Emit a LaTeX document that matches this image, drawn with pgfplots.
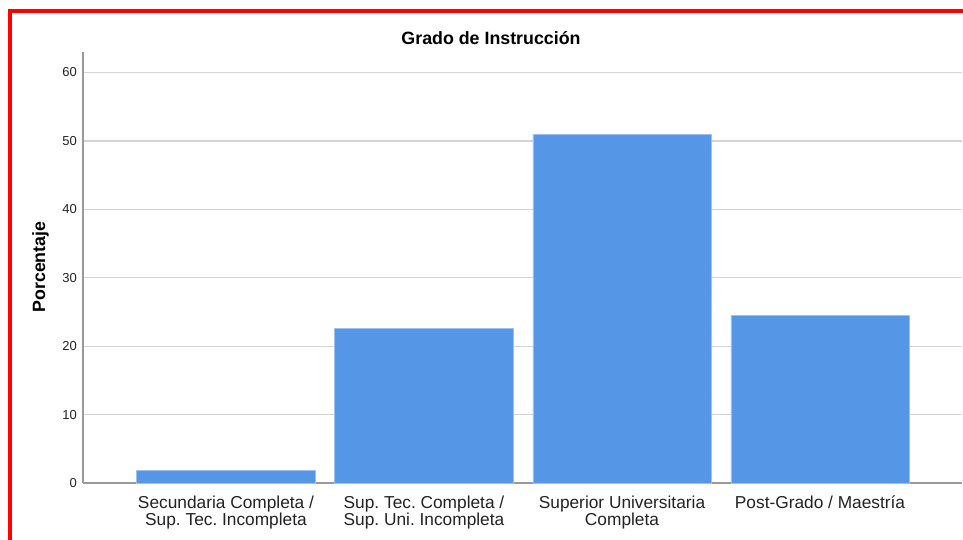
\documentclass[border=0pt]{standalone}
\usepackage{pgfplots}
\pgfplotsset{compat=1.18}
\usepackage{fontspec}
\setmainfont{Liberation Sans}
\frenchspacing
\definecolor{barblue}{HTML}{5596E6}
\definecolor{baredge}{HTML}{9CC0F0}
\definecolor{gridgray}{HTML}{D4D4D4}
\definecolor{axisgray}{HTML}{9A9A9A}
\definecolor{txt}{HTML}{222222}
\begin{document}
\begin{tikzpicture}
\path[use as bounding box] (0,0) rectangle (963bp,540bp);
\begin{axis}[
  at={(83bp,57bp)}, anchor=south west,
  scale only axis, width=879bp, height=431bp,
  xmin=-0.722, xmax=3.717, ymin=0, ymax=63,
  axis x line=bottom, axis y line=left,
  axis line style={-, axisgray, line width=1.5bp},
  ytick={0,10,20,30,40,50,60},
  xtick={0,1,2,3},
  xticklabels={{Secundaria Completa /\\Sup. Tec. Incompleta},{Sup. Tec. Completa /\\Sup. Uni. Incompleta},{Superior Universitaria\\Completa},{Post-Grado / Maestría}},
  major tick length=0pt,
  ymajorgrids, grid style={gridgray, line width=1.2bp},
  /pgf/number format/assume math mode=true,
  yticklabel style={font=\fontsize{13bp}{15bp}\selectfont, text=txt, inner sep=0pt, xshift=-6bp},
  xticklabel style={font=\fontsize{17.3bp}{16bp}\selectfont, text=txt, align=center, inner sep=0pt, yshift=-12.5bp},
  clip=false,
]
\addplot[ybar, bar width=0.9, fill=barblue, draw=baredge, line width=0.8bp] coordinates {
  (0,1.9) (1,22.6) (2,51.0) (3,24.5)
};
\end{axis}
\node[anchor=base, font=\bfseries\fontsize{17.8bp}{20bp}\selectfont] at (491bp,495bp) {Grado de Instrucción};
\node[rotate=90, anchor=base, font=\bfseries\fontsize{17.8bp}{20bp}\selectfont] at (45bp,273bp) {Porcentaje};
\draw[red, line width=3.5bp] (10bp,0bp) -- (10bp,529bp) -- (963bp,529bp);
\end{tikzpicture}
\end{document}
